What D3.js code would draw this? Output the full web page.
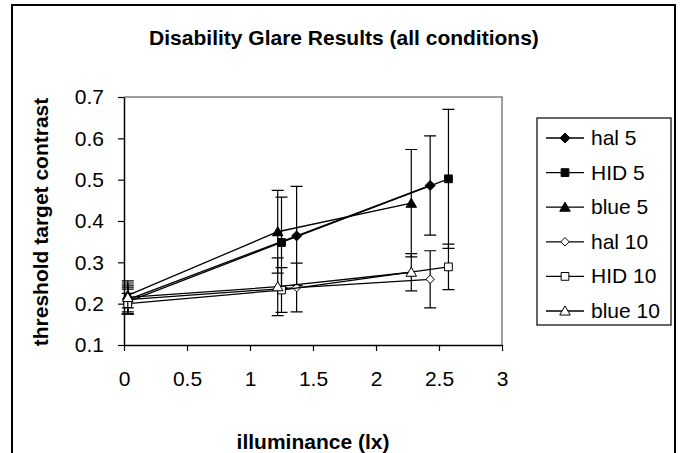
<!DOCTYPE html>
<html>
<head>
<meta charset="utf-8">
<script src="https://cdn.jsdelivr.net/npm/d3@7"></script>
<style>
  body { margin: 0; background: #fff; }
  text { font-family: "Liberation Sans", Arial, sans-serif; }
</style>
</head>
<body>
<div class="chart"></div>
<script>
// data
var seriesNames = ["hal 5", "HID 5", "blue 5", "hal 10", "HID 10", "blue 10"];
var halX  = [0.03, 1.37, 2.43];
var hidX  = [0.03, 1.25, 2.575];
var blueX = [0.03, 1.22, 2.28];

var hal5   = [0.21, 0.364, 0.486];
var hid5   = [0.205, 0.348, 0.502];
var blue5  = [0.22, 0.374, 0.443];
var hal10  = [0.21, 0.239, 0.259];
var hid10  = [0.20, 0.233, 0.289];
var blue10 = [0.215, 0.241, 0.276];

var hal5Err   = [0.035, 0.12, 0.12];
var hid5Err   = [0.03, 0.11, 0.168];
var blue5Err  = [0.03, 0.10, 0.13];
var hal10Err  = [0.03, 0.059, 0.069];
var hid10Err  = [0.025, 0.054, 0.055];
var blue10Err = [0.04, 0.07, 0.045];

var xTicks = [0, 0.5, 1, 1.5, 2, 2.5, 3];
var yTicks = [0.1, 0.2, 0.3, 0.4, 0.5, 0.6, 0.7];

var series = [
  { name: seriesNames[0], x: halX,  y: hal5,   e: hal5Err,   shape: "diamond",  filled: true },
  { name: seriesNames[1], x: hidX,  y: hid5,   e: hid5Err,   shape: "square",   filled: true },
  { name: seriesNames[2], x: blueX, y: blue5,  e: blue5Err,  shape: "triangle", filled: true },
  { name: seriesNames[3], x: halX,  y: hal10,  e: hal10Err,  shape: "diamond",  filled: false },
  { name: seriesNames[4], x: hidX,  y: hid10,  e: hid10Err,  shape: "square",   filled: false },
  { name: seriesNames[5], x: blueX, y: blue10, e: blue10Err, shape: "triangle", filled: false }
];

var svgWidth = 680, svgHeight = 453;
var plot = { left: 124, top: 97, right: 502, bottom: 345 };
var fontSize = "21px";

var svg = d3.select(".chart").append("svg")
  .attr("width", svgWidth)
  .attr("height", svgHeight);

// outer frame
svg.append("rect")
  .attr("x", 12).attr("y", 5)
  .attr("width", 663).attr("height", 470)
  .attr("fill", "none").attr("stroke", "#000").attr("stroke-width", 2);

var x = d3.scaleLinear().domain([0, 3]).range([plot.left, plot.right]);
var y = d3.scaleLinear().domain([0.1, 0.7]).range([plot.bottom, plot.top]);

// plot area border (top + right in grey)
svg.append("path")
  .attr("d", `M${plot.left},${plot.top}H${plot.right}V${plot.bottom}`)
  .attr("fill", "none").attr("stroke", "#808080").attr("stroke-width", 1.5);

// axes
var xAxis = svg.append("g")
  .attr("transform", `translate(0,${plot.bottom})`)
  .call(d3.axisBottom(x).tickValues(xTicks).tickSize(6).tickSizeOuter(0).tickPadding(20)
    .tickFormat(d3.format("")));
var yAxis = svg.append("g")
  .attr("transform", `translate(${plot.left},0)`)
  .call(d3.axisLeft(y).tickValues(yTicks).tickSize(6).tickSizeOuter(0).tickPadding(14)
    .tickFormat(d3.format(".1f")));

[xAxis, yAxis].forEach(function(g) {
  g.select(".domain").attr("stroke", "#000").attr("stroke-width", 1.5);
  g.selectAll(".tick line").attr("stroke", "#000").attr("stroke-width", 1.2);
  g.selectAll(".tick text").attr("fill", "#000").style("font-size", fontSize);
});

// excel-like diamond: equal width and height
var squareDiamond = {
  draw: function(context, size) {
    var r = Math.sqrt(size / 2);
    context.moveTo(0, -r);
    context.lineTo(r, 0);
    context.lineTo(0, r);
    context.lineTo(-r, 0);
    context.closePath();
  }
};
var symbolTypes = { diamond: squareDiamond, square: d3.symbolSquare, triangle: d3.symbolTriangle };
function symbolPath(s) {
  var size = s.shape === "diamond" ? (s.filled ? 50 : 36)
    : s.shape === "square" ? 60 : 48;
  return d3.symbol().type(symbolTypes[s.shape]).size(size)();
}

var line = d3.line().x(d => x(d.x)).y(d => y(d.y));

var chartGroup = svg.append("g");

series.forEach(function(s) {
  var pts = s.x.map((xv, i) => ({ x: xv, y: s.y[i], e: s.e[i] }));
  var g = chartGroup.append("g");

  // error bars
  pts.forEach(function(p) {
    var cx = x(p.x), y0 = y(p.y - p.e), y1 = y(p.y + p.e);
    g.append("path")
      .attr("d", `M${cx},${y0}V${y1}M${cx - 6},${y0}H${cx + 6}M${cx - 6},${y1}H${cx + 6}`)
      .attr("stroke", "#000").attr("stroke-width", 1.2).attr("fill", "none");
  });

  g.append("path")
    .datum(pts)
    .attr("d", line)
    .attr("fill", "none").attr("stroke", "#000").attr("stroke-width", 1.3);

  g.selectAll("path.mark")
    .data(pts)
    .enter().append("path")
    .attr("class", "mark")
    .attr("d", symbolPath(s))
    .attr("transform", d => `translate(${x(d.x)},${y(d.y) + (s.shape === "triangle" ? 1 : 0)})`)
    .attr("fill", s.filled ? "#000" : "#fff")
    .attr("stroke", "#000").attr("stroke-width", 1);
});

// title
svg.append("text")
  .attr("x", 344).attr("y", 45)
  .attr("text-anchor", "middle")
  .style("font-size", fontSize).style("font-weight", "bold")
  .text("Disability Glare Results (all conditions)");

// axis titles
svg.append("text")
  .attr("x", 313).attr("y", 449)
  .attr("text-anchor", "middle")
  .style("font-size", fontSize).style("font-weight", "bold")
  .text("illuminance (lx)");

svg.append("text")
  .attr("transform", "translate(48,222) rotate(-90)")
  .attr("text-anchor", "middle")
  .style("font-size", fontSize).style("font-weight", "bold")
  .text("threshold target contrast");

// legend
var legend = svg.append("g");
legend.append("rect")
  .attr("x", 537).attr("y", 118)
  .attr("width", 134).attr("height", 207)
  .attr("fill", "#fff").attr("stroke", "#000").attr("stroke-width", 1.2);

var legendY = d3.scalePoint().domain(seriesNames).range([138, 311]);

var item = legend.selectAll("g.item")
  .data(series)
  .enter().append("g")
  .attr("class", "item")
  .attr("transform", d => `translate(0,${legendY(d.name)})`);

item.append("line")
  .attr("x1", 546).attr("x2", 584)
  .attr("stroke", "#000").attr("stroke-width", 1.3);
item.append("path")
  .attr("d", d => symbolPath(d))
  .attr("transform", d => `translate(565,${d.shape === "triangle" ? 1 : 0})`)
  .attr("fill", d => d.filled ? "#000" : "#fff")
  .attr("stroke", "#000").attr("stroke-width", 1);
item.append("text")
  .attr("x", 591).attr("y", 7)
  .style("font-size", fontSize)
  .text(d => d.name);
</script>
</body>
</html>
